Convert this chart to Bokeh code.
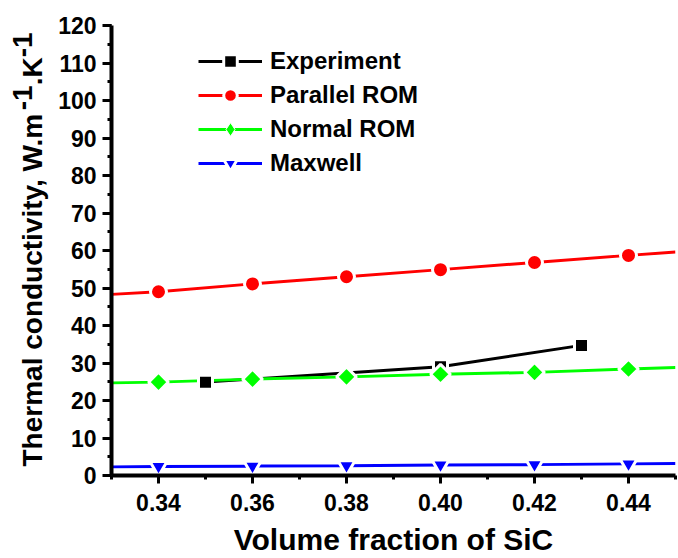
import numpy as np
from bokeh.plotting import figure
from bokeh.layouts import row
from bokeh.core.properties import value
from bokeh.models import (Range1d, SingleIntervalTicker, PrintfTickFormatter,
                          Legend, LegendItem)
from bokeh.embed import file_html
from bokeh.resources import INLINE

# ---- data ----
vf_model = [0.34, 0.36, 0.38, 0.40, 0.42, 0.44]
parallel_rom = [49.0, 51.1, 53.0, 54.9, 56.8, 58.7]
normal_rom = [24.9, 25.7, 26.3, 27.0, 27.5, 28.4]
maxwell = [2.4, 2.5, 2.6, 2.8, 2.9, 3.1]

line_ends_x = [0.33, 0.45]
parallel_ends = [48.3, 59.6]
normal_ends = [24.7, 28.8]
maxwell_ends = [2.3, 3.2]

vf_exp = [0.35, 0.40, 0.43]
experiment = [24.9, 29.0, 34.7]

x_label = "Volume fraction of SiC"
y_label_parts = ["Thermal conductivity, W.m", "-1", ".K", "-1"]
legend_labels = ["Experiment", "Parallel ROM", "Normal ROM", "Maxwell"]

FONT = "Liberation Sans"
STRIP_W = 50
H = 558

# ---- main plot ----
p = figure(width=678 - STRIP_W, height=H, output_backend="svg", toolbar_location=None,
           title=None,
           x_range=Range1d(0.33, 0.45), y_range=Range1d(0, 120),
           min_border_left=111 - STRIP_W, min_border_right=3, min_border_top=25,
           min_border_bottom=75)
p.outline_line_color = None
p.grid.visible = False

for ax in (p.xaxis[0], p.yaxis[0]):
    ax.axis_line_width = 4
    ax.axis_line_color = "black"
    ax.major_tick_line_width = 3
    ax.minor_tick_line_width = 3
    ax.major_tick_line_color = "black"
    ax.minor_tick_line_color = "black"
    ax.major_tick_in = 0
    ax.minor_tick_in = 0
    ax.major_label_text_font = FONT
    ax.major_label_text_font_style = "bold"
    ax.major_label_text_font_size = "23px"
    ax.major_label_text_color = "black"

xa = p.xaxis[0]
xa.ticker = SingleIntervalTicker(interval=0.02, num_minor_ticks=2)
xa.formatter = PrintfTickFormatter(format="%.2f")
xa.major_tick_out = 8
xa.minor_tick_out = 4
xa.major_label_standoff = 10
xa.axis_label = x_label
xa.axis_label_text_font = FONT
xa.axis_label_text_font_style = "bold"
xa.axis_label_text_font_size = "30px"
xa.axis_label_text_color = "black"
xa.axis_label_standoff = 9

ya = p.yaxis[0]
ya.ticker = SingleIntervalTicker(interval=10, num_minor_ticks=2)
ya.major_tick_out = 9
ya.minor_tick_out = 4
ya.major_label_standoff = 6

# ---- lines ----
def ext(vals, ends):
    return [ends[0]] + list(vals) + [ends[1]]

lx = [line_ends_x[0]] + vf_model + [line_ends_x[1]]
l_exp = p.line(vf_exp, experiment, line_color="black", line_width=3)
l_par = p.line(lx, ext(parallel_rom, parallel_ends), line_color="#FF0000", line_width=3)
l_nor = p.line(lx, ext(normal_rom, normal_ends), line_color="#00FF00", line_width=3)
l_max = p.line(lx, ext(maxwell, maxwell_ends), line_color="#0000FF", line_width=3)

# legend-only diamond (hidden beneath the rotated squares drawn later)
m_nor_key = p.scatter(vf_model, normal_rom, marker="diamond", size=10,
                      fill_color="#00FF00", line_color="white", line_width=1)

# ---- markers ----
m_exp = p.scatter(vf_exp, experiment, marker="square", size=14,
                  fill_color="black", line_color="white", line_width=3)
m_par = p.scatter(vf_model, parallel_rom, marker="circle", size=16,
                  fill_color="#FF0000", line_color="white", line_width=3)
m_nor = p.scatter(vf_model, normal_rom, marker="square", size=14, angle=np.pi / 4,
                  fill_color="#00FF00", line_color="white", line_width=3)
m_max = p.scatter(vf_model, maxwell, marker="inverted_triangle", size=17,
                  fill_color="#0000FF", line_color="white", line_width=3)

legend = Legend(items=[
    LegendItem(label=legend_labels[0], renderers=[l_exp, m_exp]),
    LegendItem(label=legend_labels[1], renderers=[l_par, m_par]),
    LegendItem(label=legend_labels[2], renderers=[l_nor, m_nor_key]),
    LegendItem(label=legend_labels[3], renderers=[l_max, m_max]),
], location=(87, 295), glyph_width=64, glyph_height=34, label_height=34,
    spacing=0, padding=0, margin=0, label_standoff=8,
    border_line_color=None, background_fill_alpha=0,
    label_text_font=FONT, label_text_font_style="bold",
    label_text_font_size="24px", label_text_color="black")
p.add_layout(legend)

# ---- strip on the left holding the rotated y-axis title with superscripts ----
s = figure(width=STRIP_W, height=H, output_backend="svg", toolbar_location=None,
           title=None, frame_width=STRIP_W, frame_height=H,
           x_range=Range1d(0, STRIP_W), y_range=Range1d(0, H),
           x_axis_type=None, y_axis_type=None,
           min_border_left=0, min_border_right=0, min_border_top=0, min_border_bottom=0)
s.outline_line_color = None
s.grid.visible = False

fs = 28
widths = [12.725, 0.889, 1.0, 0.889]   # Arial/Liberation Sans bold advances (em)
start_py = 441.0
base_main, base_sup = 32.0, 22.0
tx, ty = [], []
py = start_py
for i, part in enumerate(y_label_parts):
    tx.append(base_sup if i in (1, 3) else base_main)
    ty.append(H - py)
    py -= widths[i] * fs
s.text(x=tx, y=ty, text=y_label_parts, angle=np.pi / 2, text_align="left",
       text_baseline="alphabetic", text_font=value(FONT), text_font_style="bold",
       text_font_size=f"{fs}px", text_color="black")

layout = row(s, p, spacing=0)
open("out.html", "w").write(file_html(layout, INLINE))
